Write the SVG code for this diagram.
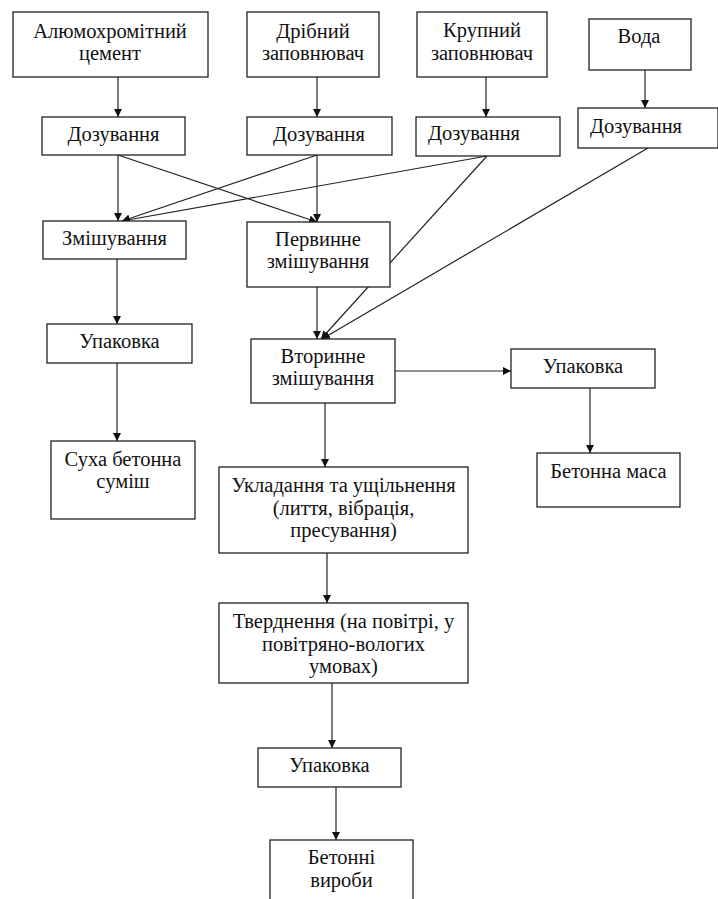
<svg xmlns="http://www.w3.org/2000/svg" width="718" height="899" viewBox="0 0 718 899">
<style>
.box{fill:#fff;stroke:#222;stroke-width:1.3}
text{font-family:'Liberation Serif','DejaVu Serif',serif;font-size:20.5px;fill:#111;text-anchor:middle}
.l{text-anchor:start}
.c{stroke:#222;stroke-width:1.2;fill:none;marker-end:url(#ah)}
</style>
<defs>
<marker id="ah" viewBox="0 0 10 10" refX="10" refY="5" markerWidth="8" markerHeight="8" markerUnits="userSpaceOnUse" orient="auto">
<path d="M0,0 L10,5 L0,10 z" fill="#111"/>
</marker>
</defs>
<rect width="718" height="899" fill="#fff"/>
<g id="connectors">
<line class="c" x1="118" y1="77" x2="118" y2="117"/>
<line class="c" x1="317" y1="77" x2="317" y2="117"/>
<line class="c" x1="486" y1="77" x2="486" y2="117"/>
<line class="c" x1="645" y1="70" x2="645" y2="108"/>
<line class="c" x1="118" y1="155" x2="118" y2="221"/>
<line class="c" x1="118" y1="155" x2="317" y2="222"/>
<line class="c" x1="317" y1="155" x2="317" y2="222"/>
<line class="c" x1="317" y1="155" x2="122" y2="221"/>
<line class="c" x1="487" y1="156" x2="122" y2="221"/>
<line class="c" x1="487" y1="156" x2="321" y2="339"/>
<line class="c" x1="648" y1="148" x2="322" y2="339"/>
<line class="c" x1="317" y1="287" x2="317" y2="339"/>
<line class="c" x1="117" y1="259" x2="117" y2="324"/>
<line class="c" x1="117" y1="363" x2="117" y2="441"/>
<line class="c" x1="395" y1="371" x2="511" y2="371"/>
<line class="c" x1="590" y1="388" x2="590" y2="453"/>
<line class="c" x1="325" y1="403" x2="325" y2="467"/>
<line class="c" x1="327" y1="553" x2="327" y2="603"/>
<line class="c" x1="332" y1="683" x2="332" y2="748"/>
<line class="c" x1="336" y1="787" x2="336" y2="840"/>
</g>
<g id="cement"><rect class="box" x="13" y="12" width="195" height="65"/><text x="110" y="38">Алюмохромітний</text><text x="110" y="60">цемент</text></g>
<g id="fine"><rect class="box" x="247" y="12" width="132" height="65"/><text x="313" y="38">Дрібний</text><text x="313" y="60">заповнювач</text></g>
<g id="coarse"><rect class="box" x="417" y="12" width="130" height="65"/><text x="482" y="37">Крупний</text><text x="482" y="60">заповнювач</text></g>
<g id="water"><rect class="box" x="589" y="19" width="102" height="51"/><text x="639" y="43">Вода</text></g>
<g id="dose1"><rect class="box" x="42" y="117" width="143" height="38"/><text x="113.5" y="141">Дозування</text></g>
<g id="dose2"><rect class="box" x="247" y="117" width="145" height="38"/><text x="319" y="141">Дозування</text></g>
<g id="dose3"><rect class="box" x="416" y="117" width="144" height="39"/><text class="l" x="428" y="140">Дозування</text></g>
<g id="dose4"><rect class="box" x="578" y="108" width="140" height="40"/><text class="l" x="590" y="133">Дозування</text></g>
<g id="mix"><rect class="box" x="43" y="221" width="143" height="38"/><text x="114.5" y="245">Змішування</text></g>
<g id="primary"><rect class="box" x="247" y="222" width="143" height="65"/><text x="318" y="246">Первинне</text><text x="318" y="268">змішування</text></g>
<g id="pack1"><rect class="box" x="47" y="324" width="145" height="39"/><text x="119.5" y="348">Упаковка</text></g>
<g id="dry"><rect class="box" x="51" y="441" width="144" height="78"/><text x="123" y="466">Суха бетонна</text><text x="123" y="488">суміш</text></g>
<g id="secondary"><rect class="box" x="251" y="339" width="144" height="64"/><text x="323" y="363">Вторинне</text><text x="323" y="385">змішування</text></g>
<g id="pack2"><rect class="box" x="511" y="349" width="144" height="39"/><text x="583" y="373">Упаковка</text></g>
<g id="mass"><rect class="box" x="537" y="453" width="143" height="54"/><text x="608.5" y="478">Бетонна маса</text></g>
<g id="placing"><rect class="box" x="219" y="467" width="249" height="86"/><text x="343.5" y="492">Укладання та ущільнення</text><text x="343.5" y="515">(лиття, вібрація,</text><text x="343.5" y="537">пресування)</text></g>
<g id="curing"><rect class="box" x="219" y="603" width="249" height="80"/><text x="343.5" y="628">Тверднення (на повітрі, у</text><text x="343.5" y="651">повітряно-вологих</text><text x="343.5" y="673">умовах)</text></g>
<g id="pack3"><rect class="box" x="258" y="748" width="143" height="39"/><text x="329.5" y="772">Упаковка</text></g>
<g id="products"><rect class="box" x="270" y="840" width="143" height="70"/><text x="341.5" y="864">Бетонні</text><text x="341.5" y="887">вироби</text></g>
</svg>
